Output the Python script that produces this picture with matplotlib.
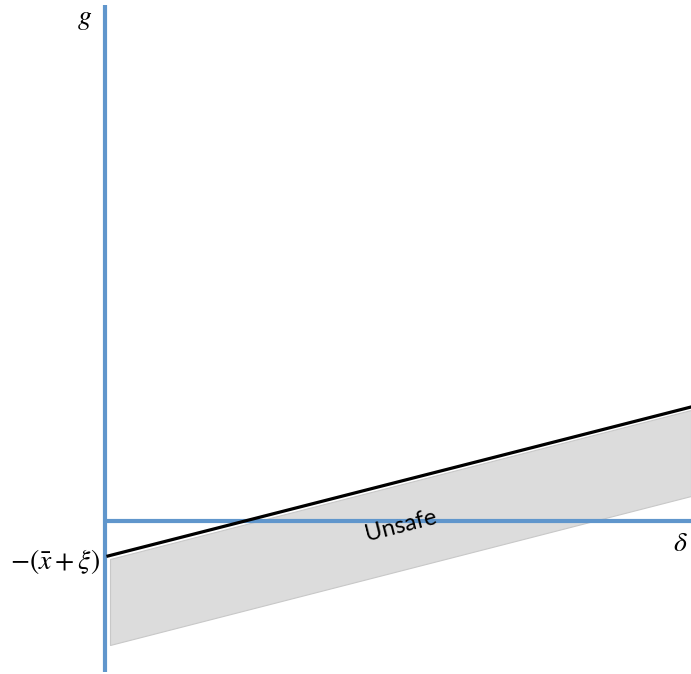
import matplotlib.pyplot as plt

# boundary line g(delta) (1 unit = 100 px)
delta = [0.03, 5.86]
g_line = [-0.35, 1.14]

# shaded "Unsafe" band
band_delta = [0.05, 5.86]
band_upper = [-0.38, 1.11]
band_lower = [-1.24, 0.25]

axis_blue = "#6096cc"

fig = plt.figure(figsize=(6.91, 6.74), dpi=100)
ax = fig.add_axes([0, 0, 1, 1])
ax.set_xlim(-1.05, 5.86)
ax.set_ylim(-1.53, 5.21)
ax.axis("off")

# grey band with a faint darker edge
ax.fill_between(band_delta, band_lower, band_upper, color="#dcdcdc",
                edgecolor="#c8c8c8", linewidth=0.8, zorder=1)

# axes
ax.plot([0, 5.86], [0, 0], color=axis_blue, lw=3.0, zorder=2,
        solid_capstyle="butt")
ax.plot([0, 0], [-1.51, 5.16], color=axis_blue, lw=3.0, zorder=3,
        solid_capstyle="butt")

# boundary line
ax.plot(delta, g_line, color="black", lw=2.3, zorder=4)

# labels
math = dict(fontsize=20, color="black")
plt.rcParams["mathtext.fontset"] = "stix"
ax.text(-0.20, 5.03, r"$g$", ha="center", va="center", **math)
ax.text(5.75, -0.22, r"$\delta$", ha="center", va="center", **math)
ax.text(-0.05, -0.40, r"$-(\bar{x}+\xi)$", ha="right", va="center", **math)

ax.text(2.96, -0.05, "Unsafe", rotation=14.3, rotation_mode="anchor",
        ha="center", va="center", fontsize=17, family="Lato", zorder=5)

fig.savefig("out.png", dpi=100)
